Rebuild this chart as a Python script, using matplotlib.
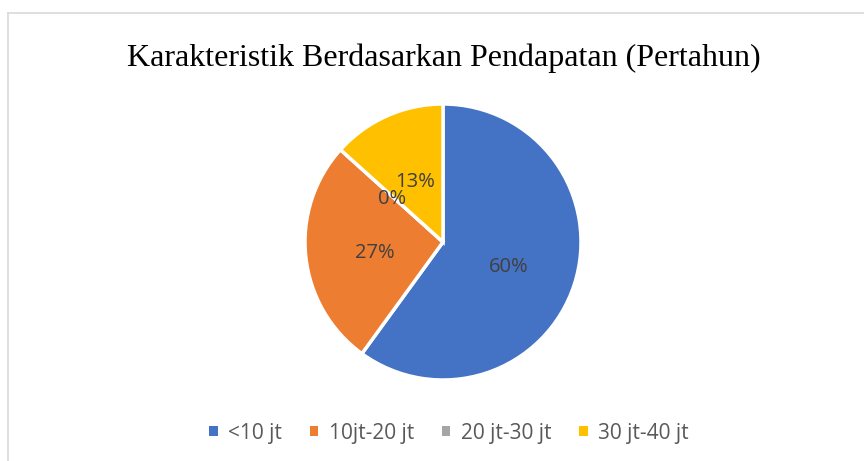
import matplotlib.pyplot as plt
from matplotlib.patches import Patch
from matplotlib.lines import Line2D

# Data
categories = ['<10 jt', '10jt-20 jt', '20 jt-30 jt', '30 jt-40 jt']
counts = [9, 4, 0, 2]
colors = ['#4472C4', '#ED7D31', '#A5A5A5', '#FFC000']
title = 'Karakteristik Berdasarkan Pendapatan (Pertahun)'

W, H = 864, 461
fig = plt.figure(figsize=(W / 100, H / 100), dpi=100)

# chart area border (top and left visible)
fig.add_artist(Line2D([8 / W, 1], [1 - 13 / H, 1 - 13 / H], color='#d9d9d9', lw=1.2))
fig.add_artist(Line2D([8 / W, 8 / W], [0, 1 - 13 / H], color='#d9d9d9', lw=1.2))

# pie axes placed so the circle is centred at (443, 242) px with radius 138
cx, cy, r = 443, 242, 138
ax = fig.add_axes([(cx - r) / W, (H - cy - r) / H, 2 * r / W, 2 * r / H])
wedges, texts, autotexts = ax.pie(
    counts, colors=colors, startangle=90, counterclock=False,
    autopct='%1.0f%%', pctdistance=0.5,
    wedgeprops=dict(edgecolor='white', linewidth=2.5),
    textprops=dict(color='#404040', fontsize=14.5, family='Open Sans'))
ax.set_xlim(-1, 1)
ax.set_ylim(-1, 1)
ax.set_aspect('equal')
for t in autotexts:
    t.set_clip_on(False)
    x, y = t.get_position()
    t.set_position((x, y - 0.025))

fig.text(444 / W, 1 - 58 / H, title, ha='center', va='center',
         family='Liberation Serif', fontsize=23, color='black')

handles = [Patch(facecolor=c, edgecolor='none') for c in colors]
fig.legend(handles, categories, loc='center', bbox_to_anchor=(449 / W, 1 - 433 / H),
           ncol=4, frameon=False, handlelength=0.4, handleheight=0.4,
           handletextpad=0.5, columnspacing=1.35,
           prop=dict(family='Open Sans', size=15), labelcolor='#595959')

fig.savefig('out.png', dpi=100)
